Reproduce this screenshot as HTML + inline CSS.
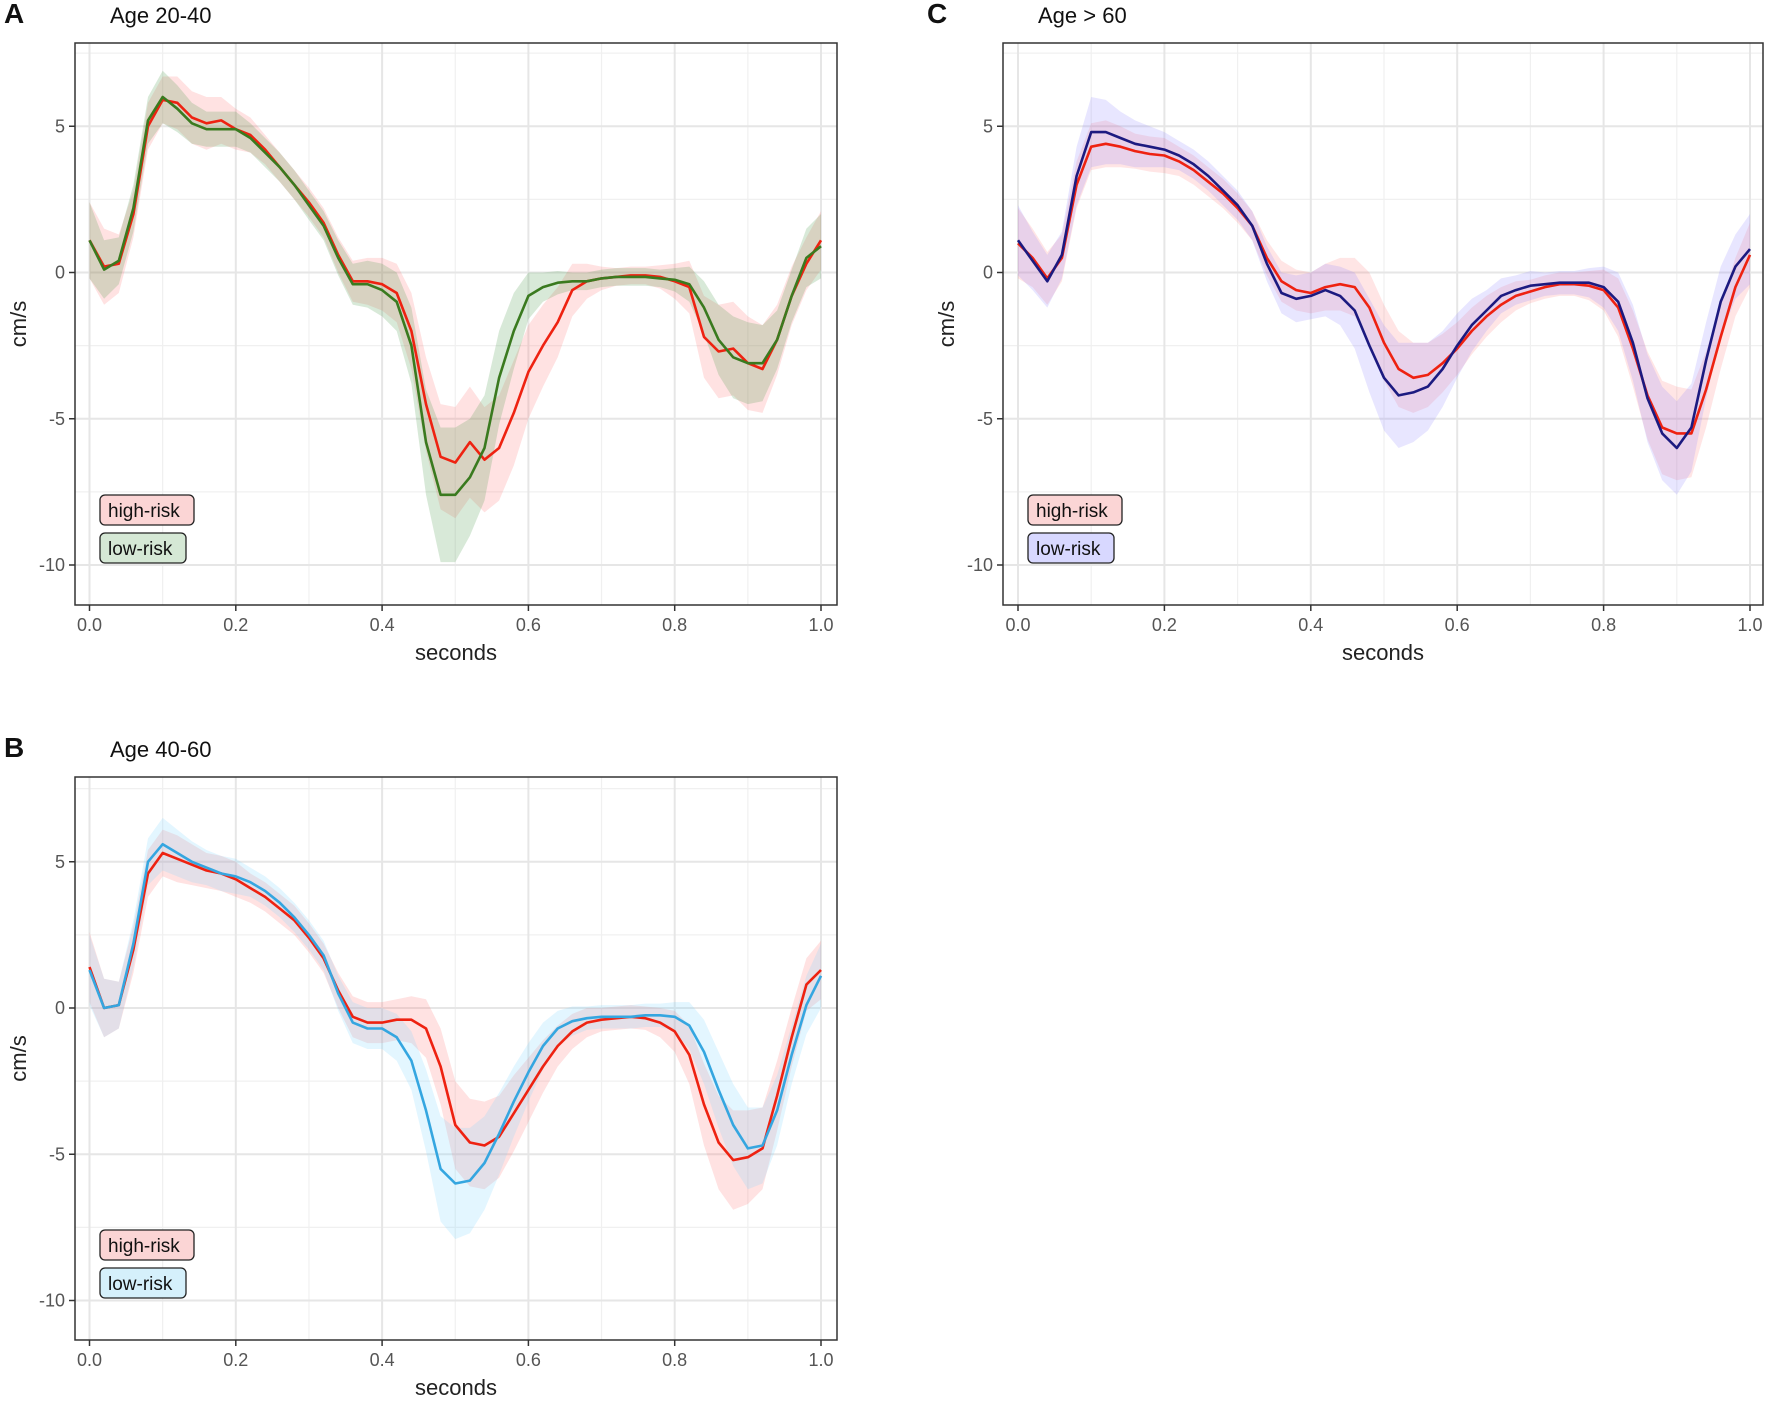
<!DOCTYPE html>
<html><head><meta charset="utf-8">
<style>
html,body{margin:0;padding:0;background:#fff;}
svg{display:block;font-family:"Liberation Sans",sans-serif;}
</style></head>
<body>
<svg id="fig" width="1772" height="1401" viewBox="0 0 1772 1401" xmlns="http://www.w3.org/2000/svg"></svg>
<script>
const xs = [];
for (let i = 0; i <= 50; i++) xs.push(i / 50);
const xTicks = [0, 0.2, 0.4, 0.6, 0.8, 1.0];
const xTickLabels = ["0.0", "0.2", "0.4", "0.6", "0.8", "1.0"];
const yTicks = [5, 0, -5, -10];
const yTickLabels = ["5", "0", "-5", "-10"];

// Panel A (Age 20-40)
const aHigh = [1.1,0.2,0.3,2.0,5.0,5.9,5.8,5.3,5.1,5.2,4.9,4.7,4.2,3.6,3.0,2.4,1.7,0.6,-0.3,-0.3,
  -0.4,-0.7,-2.0,-4.5,-6.3,-6.5,-5.8,-6.4,-6.0,-4.8,-3.4,-2.5,-1.7,-0.6,-0.3,-0.2,-0.15,-0.1,-0.1,-0.15,-0.3,-0.5,-2.2,-2.7,-2.6,-3.1,-3.3,-2.3,-0.8,0.3,1.1];
const aLow = [1.1,0.1,0.4,2.2,5.2,6.0,5.6,5.1,4.9,4.9,4.9,4.6,4.1,3.6,3.0,2.3,1.6,0.5,-0.4,-0.4,
  -0.6,-1.0,-2.5,-5.8,-7.6,-7.6,-7.0,-6.0,-3.6,-2.0,-0.8,-0.5,-0.35,-0.3,-0.3,-0.2,-0.15,-0.15,-0.15,-0.2,-0.25,-0.4,-1.2,-2.3,-2.9,-3.1,-3.1,-2.3,-0.8,0.5,0.9];
const aHighSpread = [1.3,1.3,1.0,0.8,0.8,0.8,0.9,0.9,0.9,0.8,0.7,0.6,0.5,0.5,0.5,0.5,0.5,0.6,0.7,0.8,
  0.9,1.0,1.3,1.6,1.8,1.9,1.9,1.8,1.8,1.8,1.6,1.4,1.2,0.9,0.6,0.4,0.3,0.3,0.3,0.4,0.6,0.9,1.4,1.6,1.6,1.6,1.5,1.2,1.0,0.9,1.0];
const aLowSpread = [1.3,1.0,0.8,0.8,0.8,0.9,0.8,0.7,0.6,0.6,0.6,0.5,0.5,0.5,0.5,0.5,0.5,0.6,0.7,0.8,
  0.9,1.0,1.3,1.8,2.3,2.3,2.0,1.8,1.6,1.3,0.8,0.5,0.4,0.3,0.3,0.3,0.3,0.3,0.3,0.3,0.4,0.6,0.9,1.2,1.4,1.4,1.3,1.0,0.9,1.0,1.1];

// Panel B (Age 40-60)
const bHigh = [1.4,0.0,0.1,2.0,4.6,5.3,5.1,4.9,4.7,4.6,4.4,4.1,3.8,3.4,3.0,2.4,1.7,0.6,-0.3,-0.5,
  -0.5,-0.4,-0.4,-0.7,-2.0,-4.0,-4.6,-4.7,-4.4,-3.6,-2.8,-2.0,-1.3,-0.8,-0.5,-0.4,-0.35,-0.3,-0.35,-0.5,-0.8,-1.6,-3.3,-4.6,-5.2,-5.1,-4.8,-3.0,-1.0,0.8,1.3];
const bLow = [1.3,0.0,0.1,2.2,5.0,5.6,5.3,5.0,4.8,4.6,4.5,4.3,4.0,3.6,3.1,2.5,1.8,0.5,-0.5,-0.7,
  -0.7,-1.0,-1.8,-3.5,-5.5,-6.0,-5.9,-5.3,-4.3,-3.2,-2.2,-1.3,-0.7,-0.45,-0.35,-0.3,-0.3,-0.3,-0.25,-0.25,-0.3,-0.6,-1.5,-2.8,-4.0,-4.8,-4.7,-3.5,-1.6,0.1,1.1];
const bHighSpread = [1.2,1.0,0.8,0.8,0.8,0.8,0.8,0.7,0.6,0.6,0.6,0.5,0.5,0.5,0.5,0.5,0.5,0.6,0.7,0.7,
  0.7,0.7,0.8,1.0,1.3,1.5,1.5,1.5,1.4,1.3,1.1,0.9,0.7,0.6,0.5,0.4,0.4,0.4,0.4,0.5,0.7,1.0,1.4,1.6,1.7,1.6,1.4,1.2,1.0,0.9,1.0];
const bLowSpread = [1.2,1.0,0.8,0.8,0.8,0.9,0.8,0.7,0.6,0.6,0.6,0.5,0.5,0.5,0.5,0.5,0.5,0.6,0.7,0.7,
  0.7,0.8,1.0,1.4,1.8,1.9,1.8,1.6,1.4,1.2,1.0,0.8,0.6,0.5,0.4,0.4,0.4,0.4,0.4,0.4,0.5,0.8,1.1,1.3,1.4,1.4,1.3,1.2,1.0,1.0,1.1];

// Panel C (Age > 60)
const cHigh = [1.0,0.5,-0.2,0.5,3.0,4.3,4.4,4.3,4.15,4.05,4.0,3.8,3.5,3.1,2.7,2.2,1.6,0.5,-0.3,-0.6,
  -0.7,-0.5,-0.4,-0.5,-1.2,-2.4,-3.3,-3.6,-3.5,-3.1,-2.6,-2.0,-1.5,-1.1,-0.8,-0.65,-0.5,-0.4,-0.4,-0.45,-0.6,-1.2,-2.6,-4.2,-5.3,-5.5,-5.5,-4.0,-2.2,-0.5,0.6];
const cLow = [1.1,0.4,-0.3,0.6,3.3,4.8,4.8,4.6,4.4,4.3,4.2,4.0,3.7,3.3,2.8,2.3,1.6,0.3,-0.7,-0.9,
  -0.8,-0.6,-0.8,-1.3,-2.5,-3.6,-4.2,-4.1,-3.9,-3.3,-2.5,-1.8,-1.3,-0.8,-0.6,-0.45,-0.4,-0.35,-0.35,-0.35,-0.5,-1.0,-2.4,-4.3,-5.5,-6.0,-5.3,-3.0,-1.0,0.2,0.8];
const cHighSpread = [1.2,1.0,0.9,0.8,0.8,0.8,0.8,0.7,0.6,0.6,0.6,0.5,0.5,0.5,0.5,0.5,0.5,0.6,0.7,0.7,
  0.7,0.8,0.9,1.0,1.2,1.3,1.3,1.2,1.1,1.0,0.9,0.8,0.7,0.6,0.5,0.4,0.4,0.4,0.4,0.5,0.7,1.0,1.3,1.5,1.6,1.6,1.5,1.3,1.1,1.0,1.1];
const cLowSpread = [1.2,1.0,0.9,0.8,1.0,1.2,1.1,0.9,0.8,0.7,0.6,0.5,0.5,0.5,0.5,0.5,0.5,0.6,0.7,0.8,
  0.8,0.9,1.0,1.3,1.6,1.8,1.8,1.7,1.5,1.3,1.1,0.9,0.7,0.6,0.5,0.5,0.4,0.4,0.4,0.5,0.7,1.0,1.3,1.5,1.6,1.6,1.5,1.3,1.2,1.1,1.2];

const NS = "http://www.w3.org/2000/svg";
const svg = document.getElementById("fig");
function mk(tag, attrs, parent) {
  const e = document.createElementNS(NS, tag);
  for (const k in attrs) e.setAttribute(k, attrs[k]);
  (parent || svg).appendChild(e);
  return e;
}

function panel(cfg) {
  const g = mk("g", {});
  
  
  const L = cfg.left, R = cfg.right, T = cfg.top, B = cfg.bottom;
  const X = v => cfg.x0 + v * (cfg.x1 - cfg.x0);
  const Y = v => cfg.y0 - v * cfg.ppu;
  // grid
  const minorX = [0.1, 0.3, 0.5, 0.7, 0.9];
  const minorY = [7.5, 2.5, -2.5, -7.5];
  minorX.forEach(v => mk("line", {x1: X(v), x2: X(v), y1: T, y2: B, stroke: "#f0f0f0", "stroke-width": 1.2}, g));
  minorY.forEach(v => mk("line", {x1: L, x2: R, y1: Y(v), y2: Y(v), stroke: "#f0f0f0", "stroke-width": 1.2}, g));
  xTicks.forEach(v => mk("line", {x1: X(v), x2: X(v), y1: T, y2: B, stroke: "#e6e6e6", "stroke-width": 2}, g));
  yTicks.forEach(v => mk("line", {x1: L, x2: R, y1: Y(v), y2: Y(v), stroke: "#e6e6e6", "stroke-width": 2}, g));
  // bands then lines
  cfg.series.forEach(s => {
    let d = "";
    xs.forEach((x, i) => { d += (i ? "L" : "M") + X(x).toFixed(1) + "," + Y(s.vals[i] + s.spread[i]).toFixed(1); });
    for (let i = xs.length - 1; i >= 0; i--) d += "L" + X(xs[i]).toFixed(1) + "," + Y(s.vals[i] - s.spread[i]).toFixed(1);
    const p = mk("path", {d: d + "Z", fill: s.band, "fill-opacity": s.bandOp, stroke: "none"}, g);
    
    
  });
  cfg.series.forEach(s => {
    const pts = xs.map((x, i) => X(x).toFixed(1) + "," + Y(s.vals[i]).toFixed(1)).join(" ");
    const l = mk("polyline", {points: pts, fill: "none", stroke: s.color, "stroke-width": 2.6, "stroke-linejoin": "round"}, g);
    
    
  });
  // border
  const br = mk("rect", {x: L, y: T, width: R - L, height: B - T, fill: "none", stroke: "#333", "stroke-width": 1.5}, g);
  
  
  // ticks
  xTicks.forEach((v, i) => {
    mk("line", {x1: X(v), x2: X(v), y1: B, y2: B + 6, stroke: "#333", "stroke-width": 1.5}, g);
    const t = mk("text", {x: X(v), y: B + 26, "text-anchor": "middle", "font-size": 18, fill: "#555"}, g);
    t.textContent = xTickLabels[i];
    
    
  });
  yTicks.forEach((v, i) => {
    mk("line", {x1: L - 6, x2: L, y1: Y(v), y2: Y(v), stroke: "#333", "stroke-width": 1.5}, g);
    const t = mk("text", {x: L - 10, y: Y(v) + 6, "text-anchor": "end", "font-size": 18, fill: "#555"}, g);
    t.textContent = yTickLabels[i];
    
    
  });
  const xt = mk("text", {x: (L + R) / 2, y: B + 55, "text-anchor": "middle", "font-size": 22, fill: "#222"}, g);
  xt.textContent = "seconds";
  
  
  const yx = L - 49, yy = (T + B) / 2;
  const yt = mk("text", {x: yx, y: yy, "text-anchor": "middle", "font-size": 22, fill: "#222", transform: "rotate(-90 " + yx + " " + yy + ")"}, g);
  yt.textContent = "cm/s";
  
  
  // panel letter & title
  const lt = mk("text", {x: cfg.letterX, y: T - 20, "font-size": 28, "font-weight": "bold", fill: "#111"}, g);
  lt.textContent = cfg.letter;
  
  
  const tt = mk("text", {x: cfg.titleX, y: T - 20, "font-size": 22, fill: "#111"}, g);
  tt.textContent = cfg.title;
  
  
  // legend
  cfg.series.forEach((s, i) => {
    const lx = L + 25, ly = B - 110 + i * 38;
    const w = s.label === "high-risk" ? 94 : 86;
    const lg = mk("g", {}, g);
    
    
    mk("rect", {x: lx, y: ly, width: w, height: 30, rx: 5, fill: s.legendFill, stroke: "#222", "stroke-width": 1.3}, lg);
    const t = mk("text", {x: lx + 8, y: ly + 22, "font-size": 19, fill: "#111"}, lg);
    t.textContent = s.label;
  });
}

panel({name: "panel-a", letter: "A", title: "Age 20-40", letterX: 4, titleX: 110,
  left: 75, right: 837, top: 43, bottom: 605, x0: 89.5, x1: 821, y0: 272.5, ppu: 29.25,
  series: [
    {key: "high-risk", label: "high-risk", vals: aHigh, spread: aHighSpread, color: "#ee2211", band: "#ff7070", bandOp: 0.2, legendFill: "#fbd5d5"},
    {key: "low-risk", label: "low-risk", vals: aLow, spread: aLowSpread, color: "#3a7a1f", band: "#4e9a4e", bandOp: 0.22, legendFill: "#d5e8d5"}
  ]});
panel({name: "panel-c", letter: "C", title: "Age > 60", letterX: 927, titleX: 1038,
  left: 1003, right: 1763, top: 43, bottom: 605, x0: 1018, x1: 1750, y0: 272.5, ppu: 29.25,
  series: [
    {key: "high-risk", label: "high-risk", vals: cHigh, spread: cHighSpread, color: "#ee2211", band: "#ff7070", bandOp: 0.18, legendFill: "#fbd5d5"},
    {key: "low-risk", label: "low-risk", vals: cLow, spread: cLowSpread, color: "#1c1a80", band: "#8a80ff", bandOp: 0.2, legendFill: "#d8d8ff"}
  ]});
panel({name: "panel-b", letter: "B", title: "Age 40-60", letterX: 4, titleX: 110,
  left: 75, right: 837, top: 777, bottom: 1340, x0: 89.5, x1: 821, y0: 1008, ppu: 29.25,
  series: [
    {key: "high-risk", label: "high-risk", vals: bHigh, spread: bHighSpread, color: "#ee2211", band: "#ff7070", bandOp: 0.2, legendFill: "#fbd5d5"},
    {key: "low-risk", label: "low-risk", vals: bLow, spread: bLowSpread, color: "#35a6e0", band: "#80d4ff", bandOp: 0.22, legendFill: "#d5f0fb"}
  ]});
</script>
</body></html>
